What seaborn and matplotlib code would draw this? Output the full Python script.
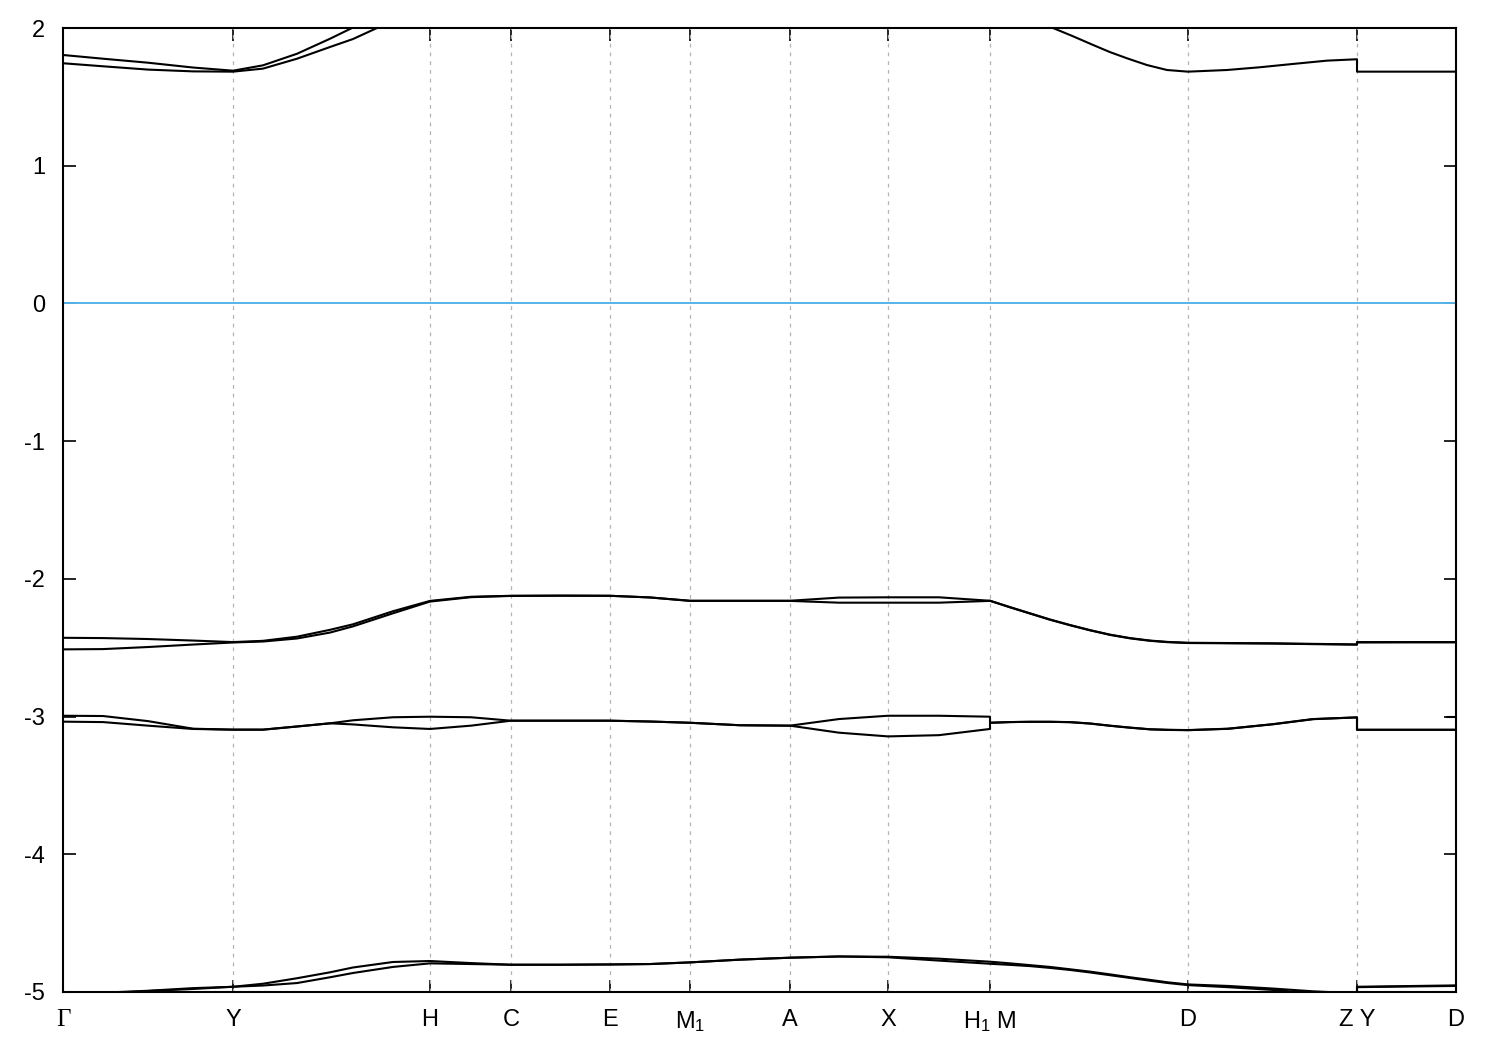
import numpy as np
import pandas as pd
import matplotlib
matplotlib.use("Agg")
import matplotlib.pyplot as plt
from matplotlib import font_manager
import seaborn as sns

# ---------------- data ----------------
# high-symmetry positions along the k-path (arbitrary path units)
KPOS = [0, 170, 367, 448, 547, 627, 727, 825, 927, 1125, 1294, 1393]
KLABELS = ["Γ", "Y", "H", "C", "E", "M$_1$", "A", "X", "H$_1$ M", "D", "Z Y", "D"]

# sampling points for the three path segments (Γ..H1 | M..Z | Y..D)
K_A = [0, 40, 85, 130, 170, 200, 234, 267, 290, 330, 367, 408, 448, 497, 547, 587, 627, 677, 727, 776, 825, 876, 927]
K_B = [927, 947, 967, 987, 1007, 1027, 1047, 1067, 1087, 1105, 1125, 1165, 1210, 1250, 1294]
K_C = [1294, 1344, 1393]
K_VAL = K_A + K_B + K_C

# valence bands (eV)
band_v3a = ([-2.428, -2.430, -2.437, -2.448, -2.459, -2.450, -2.420, -2.370, -2.330, -2.235, -2.160, -2.130, -2.123, -2.122, -2.123, -2.135, -2.159, -2.159, -2.159, -2.136, -2.134, -2.134, -2.159]
            + [-2.159, -2.205, -2.250, -2.295, -2.335, -2.372, -2.405, -2.430, -2.448, -2.458, -2.464, -2.466, -2.468, -2.472, -2.476]
            + [-2.459, -2.459, -2.459])
band_v3b = ([-2.512, -2.510, -2.495, -2.477, -2.462, -2.455, -2.433, -2.390, -2.345, -2.250, -2.165, -2.133, -2.124, -2.122, -2.123, -2.135, -2.160, -2.160, -2.160, -2.173, -2.173, -2.173, -2.160]
            + [-2.159, -2.207, -2.252, -2.297, -2.337, -2.374, -2.407, -2.432, -2.450, -2.460, -2.466, -2.468, -2.470, -2.474, -2.478]
            + [-2.462, -2.461, -2.461])
band_v2a = ([-2.994, -2.996, -3.033, -3.088, -3.095, -3.095, -3.072, -3.049, -3.027, -3.005, -3.001, -3.005, -3.030, -3.030, -3.030, -3.036, -3.045, -3.063, -3.066, -3.018, -2.994, -2.994, -3.001]
            + [-3.045, -3.040, -3.038, -3.038, -3.040, -3.050, -3.066, -3.080, -3.092, -3.096, -3.098, -3.088, -3.055, -3.018, -3.006]
            + [-3.096, -3.096, -3.096])
band_v2b = ([-3.037, -3.040, -3.066, -3.090, -3.095, -3.095, -3.072, -3.049, -3.057, -3.078, -3.090, -3.066, -3.030, -3.030, -3.030, -3.036, -3.045, -3.063, -3.066, -3.117, -3.144, -3.135, -3.090]
            + [-3.045, -3.040, -3.038, -3.038, -3.041, -3.051, -3.067, -3.081, -3.093, -3.097, -3.099, -3.089, -3.056, -3.019, -3.006]
            + [-3.096, -3.096, -3.096])
band_v1a = ([-5.030, -5.005, -4.991, -4.972, -4.962, -4.940, -4.900, -4.857, -4.822, -4.782, -4.775, -4.790, -4.802, -4.802, -4.800, -4.797, -4.785, -4.765, -4.751, -4.742, -4.744, -4.758, -4.780]
            + [-4.780, -4.792, -4.805, -4.818, -4.835, -4.852, -4.872, -4.893, -4.912, -4.930, -4.945, -4.956, -4.975, -4.995, -5.010]
            + [-4.962, -4.957, -4.952])
band_v1b = ([-5.050, -5.010, -4.993, -4.978, -4.962, -4.953, -4.935, -4.893, -4.862, -4.818, -4.792, -4.797, -4.802, -4.802, -4.800, -4.797, -4.785, -4.765, -4.751, -4.742, -4.748, -4.772, -4.795]
            + [-4.795, -4.803, -4.812, -4.825, -4.840, -4.858, -4.878, -4.898, -4.918, -4.935, -4.950, -4.965, -4.985, -5.010, -5.030]
            + [-4.965, -4.960, -4.956])

# short piece of a band seen at the path end
K_V2C = [1384, 1393]
band_v2c = [-3.006, -3.006]

# conduction bands (eV), leave the window at 2 eV
K_C1 = [0, 40, 85, 130, 170, 200, 234, 267, 290, 314, 330]
band_c1 = [1.744, 1.722, 1.698, 1.685, 1.683, 1.705, 1.777, 1.862, 1.920, 2.000, 2.050]
K_C2 = [0, 40, 85, 130, 170, 200, 234, 267, 289, 300]
band_c2 = [1.804, 1.777, 1.748, 1.713, 1.690, 1.729, 1.813, 1.922, 2.000, 2.040]
K_C3 = [967, 990, 1010, 1030, 1047, 1064, 1084, 1104, 1125, 1164, 1197, 1230, 1264, 1294, 1294, 1344, 1393]
band_c3 = [2.080, 2.000, 1.940, 1.877, 1.825, 1.780, 1.731, 1.695, 1.683, 1.695, 1.715, 1.739, 1.763, 1.773, 1.683, 1.683, 1.683]

E_MIN, E_MAX = -5, 2
E_FERMI = 0

# ---------------- build table ----------------
series = [
    ("v1a", K_VAL, band_v1a), ("v1b", K_VAL, band_v1b),
    ("v2a", K_VAL, band_v2a), ("v2b", K_VAL, band_v2b),
    ("v2c", K_V2C, band_v2c),
    ("v3a", K_VAL, band_v3a), ("v3b", K_VAL, band_v3b),
    ("c1", K_C1, band_c1), ("c2", K_C2, band_c2), ("c3", K_C3, band_c3),
]
rows = []
for name, ks, es in series:
    for i, (k, e) in enumerate(zip(ks, es)):
        rows.append({"band": name, "order": i, "k": k, "E": e})
df = pd.DataFrame(rows)

# ---------------- style ----------------
sns.set_style("ticks")
names = {f.name for f in font_manager.fontManager.ttflist}
main_font = "Liberation Sans Narrow" if "Liberation Sans Narrow" in names else "Liberation Sans"
plt.rcParams["font.family"] = [main_font, "Liberation Sans", "DejaVu Sans"]
plt.rcParams["mathtext.fontset"] = "custom"
plt.rcParams["mathtext.rm"] = main_font
plt.rcParams["mathtext.it"] = main_font
plt.rcParams["mathtext.bf"] = main_font
plt.rcParams["axes.unicode_minus"] = False

fig = plt.figure(figsize=(15, 10.5), dpi=100)
fig.patch.set_facecolor("white")
ax = fig.add_axes([63 / 1500, 1 - 992 / 1050, (1456 - 63) / 1500, (992 - 28) / 1050])
ax.set_facecolor("white")

for k in KPOS[1:-1]:
    ax.axvline(k, color="#b4b4b4", lw=0.9, ls=(0, (3, 4)), zorder=1)
ax.axhline(E_FERMI, color="#56b4e9", lw=1.4, zorder=2)

for name, sub in df.groupby("band", sort=False):
    sns.lineplot(data=sub, x="k", y="E", sort=False, estimator=None,
                 color="black", lw=1.5, ax=ax, zorder=3, legend=False)

ax.set_xlim(KPOS[0], KPOS[-1])
ax.set_ylim(E_MIN, E_MAX)
ax.set_xticks(KPOS)
ax.set_xticklabels(KLABELS)
ax.set_yticks(range(E_MIN, E_MAX + 1))
ax.set_yticklabels([str(v) for v in range(E_MIN, E_MAX + 1)])
ax.set_xlabel("")
ax.set_ylabel("")

ax.tick_params(axis="both", direction="in", length=9, width=1.2, colors="black",
               labelsize=17, top=True, right=True)
ax.tick_params(axis="x", pad=12)
ax.tick_params(axis="y", pad=13)
ax.get_xticklabels()[0].set_fontfamily(["Liberation Serif", "DejaVu Serif"])
ax.get_xticklabels()[0].set_fontsize(18)

for s in ax.spines.values():
    s.set_visible(True)
    s.set_color("black")
    s.set_linewidth(1.5)
    s.set_zorder(5)

fig.savefig("out.png", dpi=100, facecolor="white")
